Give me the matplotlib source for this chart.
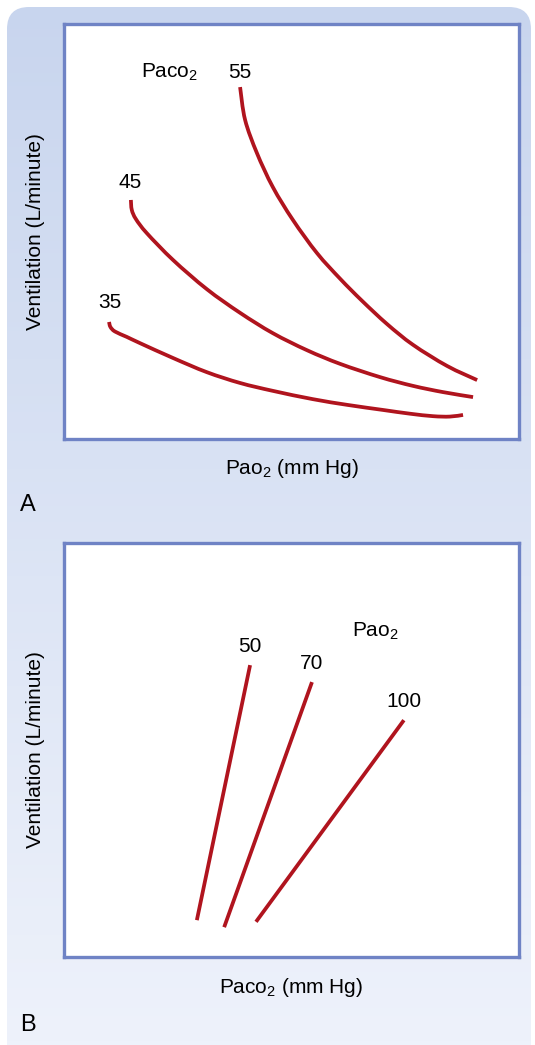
import numpy as np
import matplotlib
matplotlib.use("Agg")
from matplotlib import pyplot as plt
from matplotlib.patches import FancyBboxPatch, PathPatch
from matplotlib.path import Path

plt.rcParams['font.family'] = ['Liberation Sans', 'DejaVu Sans']
plt.rcParams['mathtext.fontset'] = 'custom'
plt.rcParams['mathtext.rm'] = 'Liberation Sans'
plt.rcParams['mathtext.default'] = 'regular'

# Panel A: ventilation vs PaO2 for three PaCO2 levels (arbitrary 0-100 units)
paco2_levels = ['55', '45', '35']
a55_x = [38.7, 39.8, 42.4, 45.9, 50.3, 55.6, 60.7, 65.5, 71.0, 76.7, 84.2, 90.8]
a55_y = [84.8, 76.9, 68.9, 60.7, 52.8, 44.8, 38.6, 33.3, 27.7, 22.7, 17.6, 14.2]
a45_x = [14.7, 14.9, 15.8, 18.2, 24.0, 31.4, 38.7, 45.9, 53.4, 60.7, 69.5, 76.7, 83.3, 89.9]
a45_y = [57.6, 55.2, 53.0, 49.6, 43.1, 36.1, 30.4, 25.5, 21.4, 18.1, 14.9, 12.8, 11.3, 10.1]
a35_x = [9.9, 10.2, 11.2, 13.8, 16.7, 24.0, 31.4, 38.7, 45.9, 54.7, 62.4, 70.1, 76.0, 81.1, 84.8, 87.7]
a35_y = [28.2, 27.0, 25.9, 24.6, 23.1, 19.5, 16.1, 13.5, 11.6, 9.6, 8.2, 7.0, 6.1, 5.5, 5.4, 5.8]

# Panel B: ventilation vs PaCO2 for three PaO2 levels
pao2_levels = ['50', '70', '100']
b50_x = [29.2, 40.9]
b50_y = [8.9, 70.5]
b70_x = [35.2, 54.5]
b70_y = [7.2, 66.4]
b100_x = [42.2, 74.7]
b100_y = [8.5, 57.2]

red = '#b0141e'
frame = '#6f83c5'
W, H = 535, 1045
FS = 15

fig = plt.figure(figsize=(W / 100, H / 100), dpi=100)

# rounded gradient background
bg = fig.add_axes([0, 0, 1, 1])
bg.set_xlim(0, W)
bg.set_ylim(H, 0)
bg.axis('off')
top = np.array([200, 213, 238]) / 255
bot = np.array([238, 242, 251]) / 255
t = np.linspace(0, 1, 256)[:, None]
grad = (top[None, :] * (1 - t) + bot[None, :] * t)[:, None, :]
im = bg.imshow(grad, extent=[0, W, H, 0], aspect='auto', zorder=0)
box = FancyBboxPatch((7, 7), W - 11, H + 30, boxstyle='round,pad=0,rounding_size=22',
                     transform=bg.transData, facecolor='none', edgecolor='none')
bg.add_patch(box)
im.set_clip_path(box)


def smooth_path(xs, ys):
    # Catmull-Rom through the read points, drawn as cubic Bezier segments
    p = np.column_stack([xs, ys]).astype(float)
    ext = np.vstack([p[0], p, p[-1]])
    verts = [p[0]]
    codes = [Path.MOVETO]
    for i in range(1, len(ext) - 2):
        c1 = ext[i] + (ext[i + 1] - ext[i - 1]) / 6
        c2 = ext[i + 1] - (ext[i + 2] - ext[i]) / 6
        verts += [c1, c2, ext[i + 1]]
        codes += [Path.CURVE4] * 3
    return Path(verts, codes)


def make_panel(bottom_px, height_px):
    ax = fig.add_axes([64 / W, (H - bottom_px) / H, 455 / W, height_px / H])
    ax.set_xlim(0, 100)
    ax.set_ylim(0, 100)
    ax.set_xticks([])
    ax.set_yticks([])
    ax.set_facecolor('white')
    for s in ax.spines.values():
        s.set_color(frame)
        s.set_linewidth(2.4)
    ax.set_ylabel('Ventilation (L/minute)', fontsize=FS, labelpad=14)
    return ax


axA = make_panel(439, 415)
for xs, ys in [(a55_x, a55_y), (a45_x, a45_y), (a35_x, a35_y)]:
    axA.add_patch(PathPatch(smooth_path(xs, ys), facecolor='none', edgecolor=red,
                            lw=2.7, capstyle='butt', joinstyle='round'))
axA.text(23.3, 88.4, 'Paco$_2$', fontsize=FS, ha='center', va='center')
axA.text(38.7, 88.4, paco2_levels[0], fontsize=FS, ha='center', va='center')
axA.text(14.5, 61.7, paco2_levels[1], fontsize=FS, ha='center', va='center')
axA.text(10.1, 33.0, paco2_levels[2], fontsize=FS, ha='center', va='center')
axA.set_xlabel('Pao$_2$ (mm Hg)', fontsize=FS, labelpad=13)

axB = make_panel(957, 414)
for xs, ys in [(b50_x, b50_y), (b70_x, b70_y), (b100_x, b100_y)]:
    axB.plot(xs, ys, color=red, lw=2.7, solid_capstyle='butt')
axB.text(40.9, 75.1, pao2_levels[0], fontsize=FS, ha='center', va='center')
axB.text(54.5, 71.0, pao2_levels[1], fontsize=FS, ha='center', va='center')
axB.text(74.7, 61.6, pao2_levels[2], fontsize=FS, ha='center', va='center')
axB.text(68.4, 78.7, 'Pao$_2$', fontsize=FS, ha='center', va='center')
axB.set_xlabel('Paco$_2$ (mm Hg)', fontsize=FS, labelpad=14)

fig.text(28 / W, 1 - 505 / H, 'A', fontsize=17, ha='center', va='center')
fig.text(28 / W, 1 - 1025 / H, 'B', fontsize=17, ha='center', va='center')

fig.savefig('out.png', dpi=100)
